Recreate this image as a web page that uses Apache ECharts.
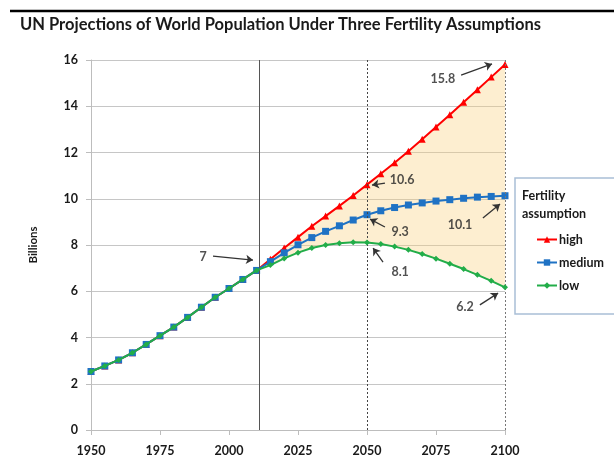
<!DOCTYPE html>
<html>
<head>
<meta charset="utf-8">
<script src="https://cdn.jsdelivr.net/npm/echarts@6/dist/echarts.min.js"></script>
<style>
  html, body { margin: 0; padding: 0; background: #fff; }
  #main { width: 614px; height: 474px; }
</style>
</head>
<body>
<div id="main"></div>
<script>
// years on the x axis, 5 year steps
var years = [1950, 1955, 1960, 1965, 1970, 1975, 1980, 1985, 1990, 1995, 2000, 2005, 2010,
    2015, 2020, 2025, 2030, 2035, 2040, 2045, 2050, 2055, 2060, 2065, 2070, 2075, 2080,
    2085, 2090, 2095, 2100]

// billions, 1950-2010 (shared by all three)
var histPop = [2.53, 2.77, 3.03, 3.34, 3.70, 4.08, 4.45, 4.87, 5.31, 5.74, 6.12, 6.51, 6.90]

// projections 2015-2100
var highProj = [7.38, 7.87, 8.34, 8.81, 9.25, 9.69, 10.14, 10.61, 11.08, 11.56, 12.05, 12.57,
    13.10, 13.63, 14.17, 14.71, 15.26, 15.81]
var mediumProj = [7.28, 7.66, 8.01, 8.32, 8.59, 8.83, 9.08, 9.31, 9.48, 9.62, 9.73, 9.82,
    9.90, 9.96, 10.02, 10.07, 10.10, 10.13]
var lowProj = [7.13, 7.42, 7.67, 7.87, 8.00, 8.08, 8.12, 8.11, 8.04, 7.93, 7.79, 7.61,
    7.41, 7.19, 6.96, 6.71, 6.45, 6.17]

var xTicks = { min: 1950, max: 2100, step: 25 }
var yTicks = { min: 0, max: 16, step: 2 }
var markYears = [2011, 2050, 2100]

// annotation text [year, value, text] and arrows [from, to]
var noteTexts = [
    [1990.6, 7.48, '7'],
    [2077.5, 15.18, '15.8'],
    [2062.7, 10.81, '10.6'],
    [2062.0, 8.56, '9.3'],
    [2083.7, 8.86, '10.1'],
    [2062.0, 6.83, '8.1'],
    [2085.5, 5.32, '6.2']
]
var noteArrows = [
    [[1994.2, 7.52], [2008.7, 7.35]],
    [[2084.1, 15.35], [2095.3, 15.83]],
    [[2056.5, 10.68], [2051.8, 10.59]],
    [[2056.5, 8.78], [2051.1, 9.12]],
    [[2092.0, 9.17], [2098.2, 9.77]],
    [[2055.8, 7.26], [2052.2, 7.87]],
    [[2090.9, 5.41], [2097.5, 5.92]]
]

function zip(vals) {
    var out = []
    for (var i = 0; i < years.length; i++) out.push([years[i], vals[i]])
    return out
}

var highAll = histPop.concat(highProj)
var mediumAll = histPop.concat(mediumProj)
var lowAll = histPop.concat(lowProj)

// shaded band between low and high, from 2010 on
var bandStart = histPop.length - 1

function renderBand(params, api) {
    var pts = []
    for (var i = bandStart; i < years.length; i++) pts.push(api.coord([years[i], highAll[i]]))
    for (var j = years.length - 1; j >= bandStart; j--) pts.push(api.coord([years[j], lowAll[j]]))
    return {
        type: 'polygon',
        shape: { points: pts },
        style: { fill: 'rgba(248,205,120,0.35)' }
    }
}

var font = 'Lato'
var chart = echarts.init(document.getElementById('main'))

var option = {
    animation: false,
    textStyle: { fontFamily: font },
    grid: { left: 91, right: 109, top: 60, bottom: 44 },
    graphic: [
        { type: 'line', shape: { x1: 10, y1: 11, x2: 614, y2: 11 }, style: { stroke: '#000', lineWidth: 2.5 } },
        { type: 'text', left: 20, top: 16, style: { text: 'UN Projections of World Population Under Three Fertility Assumptions', font: 'bold 16.5px ' + font, fill: '#1a1a1a' } },
        { type: 'rect', shape: { x: 515, y: 178, width: 110, height: 136 }, style: { fill: '#fff', stroke: '#a9bfd6', lineWidth: 1.5 }, z: 1 },
        { type: 'text', left: 522, top: 187, z: 2, style: { text: 'Fertility\nassumption', font: 'bold 12.5px ' + font, fill: '#1a1a1a', lineHeight: 18 } }
    ],
    legend: {
        data: ['high', 'medium', 'low'],
        orient: 'vertical',
        left: 531,
        top: 228,
        itemWidth: 20,
        itemHeight: 8,
        itemGap: 10,
        textStyle: { fontFamily: font, fontWeight: 'bold', fontSize: 12.5, color: '#1a1a1a', padding: [0, 0, 0, -3] },
        z: 5
    },
    xAxis: {
        type: 'value',
        min: xTicks.min,
        max: xTicks.max,
        interval: xTicks.step,
        axisLine: { lineStyle: { color: '#bdbdbd' } },
        axisTick: { show: true, length: 5, lineStyle: { color: '#bdbdbd' } },
        axisLabel: { color: '#1a1a1a', fontWeight: 'bold', fontSize: 12.5, margin: 14, formatter: function (v) { return String(v) } },
        splitLine: { show: false }
    },
    yAxis: {
        type: 'value',
        min: yTicks.min,
        max: yTicks.max,
        interval: yTicks.step,
        name: 'Billions',
        nameLocation: 'middle',
        nameGap: 52,
        nameTextStyle: { color: '#1a1a1a', fontWeight: 'bold', fontSize: 11.5 },
        axisLine: { show: true, lineStyle: { color: '#bdbdbd' } },
        axisTick: { show: true, length: 5, lineStyle: { color: '#bdbdbd' } },
        axisLabel: { color: '#1a1a1a', fontWeight: 'bold', fontSize: 12.5, margin: 13 },
        splitLine: { lineStyle: { color: '#c6c6c6' } }
    },
    series: [
        {
            name: 'band', type: 'custom', renderItem: renderBand, data: [[2100, 0]],
            silent: true, z: 1, clip: true,
            markLine: {
                silent: true, symbol: 'none', label: { show: false },
                data: [
                    { xAxis: markYears[0], lineStyle: { color: '#555', type: 'solid', width: 1 } },
                    { xAxis: markYears[1], lineStyle: { color: '#444', type: [2, 2], width: 1 } },
                    { xAxis: markYears[2], lineStyle: { color: '#777', type: [2, 2], width: 1 } }
                ]
            }
        },
        {
            name: 'high', type: 'line', data: zip(highAll), color: '#ff0000',
            symbol: 'triangle', symbolSize: 7, lineStyle: { width: 2 }, z: 3
        },
        {
            name: 'medium', type: 'line', data: zip(mediumAll), color: '#1f72c4',
            symbol: 'rect', symbolSize: 7, lineStyle: { width: 2 }, z: 4
        },
        {
            name: 'low', type: 'line', data: zip(lowAll), color: '#22ad49',
            symbol: 'diamond', symbolSize: 6, lineStyle: { width: 2 }, z: 5
        },
        {
            name: 'notes', type: 'scatter', symbolSize: 0, z: 6, silent: true,
            data: noteTexts.map(function (n) { return { name: n[2], value: [n[0], n[1]] } }),
            label: {
                show: true, position: 'inside', formatter: '{b}',
                color: '#262626', fontWeight: 'bold', fontSize: 12.5, fontFamily: font
            },
            markLine: {
                silent: true, symbol: ['none', 'arrow'], symbolSize: 7, label: { show: false },
                lineStyle: { color: '#333', width: 1.3, type: 'solid' },
                data: noteArrows.map(function (a) { return [{ coord: a[0] }, { coord: a[1] }] })
            }
        }
    ]
}
chart.setOption(option)
</script>
</body>
</html>
